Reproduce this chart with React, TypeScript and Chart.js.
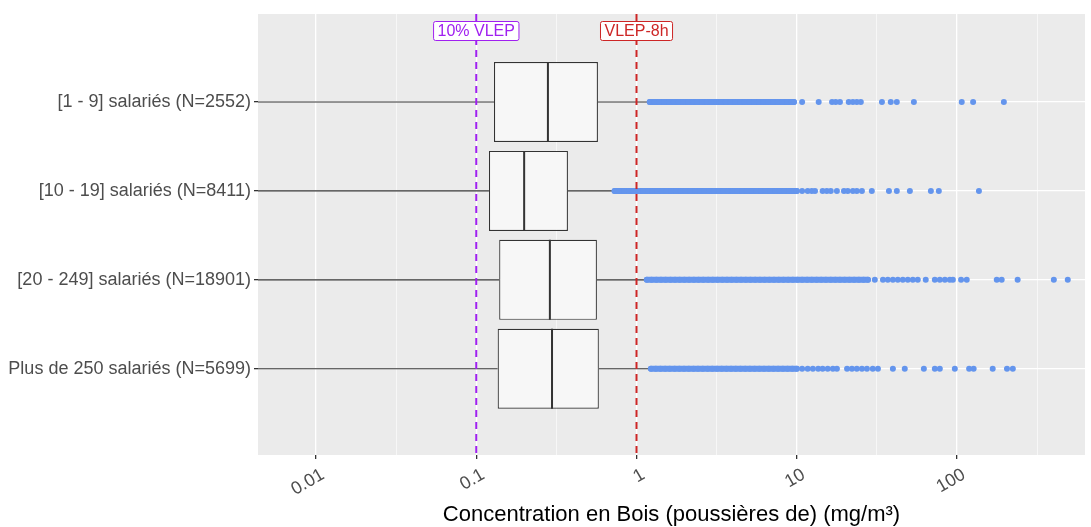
import React, { useEffect, useRef } from "react";
import { Chart, registerables } from "chart.js";

Chart.register(...registerables);

// ---------- data ----------
const categories = [
  "[1 - 9] salariés (N=2552)",
  "[10 - 19] salariés (N=8411)",
  "[20 - 249] salariés (N=18901)",
  "Plus de 250 salariés (N=5699)",
];
const q1Values = [0.129, 0.12, 0.139, 0.136];
const medianValues = [0.28, 0.199, 0.288, 0.297];
const q3Values = [0.574, 0.373, 0.566, 0.582];
const lowerWhiskers = [0.001, 0.001, 0.001, 0.001];
const upperWhiskers = [1.2, 0.72, 1.15, 1.22];

// extent of the dense (overlapping) run of outliers on each row
const denseStart = [1.21, 0.73, 1.16, 1.23];
const denseEnd = [9.6, 10.0, 27.8, 10.0];

const outliersRow1 = [1.21, 1.3, 1.39, 1.49, 1.6, 1.71, 1.83, 1.96, 2.1, 2.25, 2.4, 2.57, 2.75, 2.95, 3.15, 3.38, 3.61, 3.87, 4.14, 4.43, 4.74, 5.07, 5.43, 5.81, 6.21, 6.65, 7.11, 7.61, 8.14, 8.71, 9.32, 9.6, 10.8, 13.7, 16.6, 17.5, 18.6, 21.1, 22.4, 23.7, 25.1, 34.0, 38.6, 42.1, 53.8, 107, 126, 196];
const outliersRow2 = [0.73, 0.78, 0.84, 0.9, 0.96, 1.03, 1.1, 1.18, 1.26, 1.35, 1.44, 1.54, 1.65, 1.77, 1.89, 2.02, 2.17, 2.32, 2.48, 2.65, 2.84, 3.04, 3.25, 3.48, 3.72, 3.98, 4.26, 4.56, 4.88, 5.22, 5.59, 5.98, 6.4, 6.84, 7.32, 7.84, 8.38, 8.97, 9.6, 10.0, 10.8, 11.7, 12.4, 13.0, 14.5, 15.4, 16.3, 17.8, 19.7, 20.8, 22.4, 23.7, 25.5, 29.4, 37.6, 42.1, 50.8, 68.7, 77.0, 137];
const outliersRow3 = [1.16, 1.24, 1.33, 1.42, 1.52, 1.63, 1.74, 1.86, 1.99, 2.13, 2.28, 2.44, 2.61, 2.8, 2.99, 3.2, 3.43, 3.67, 3.92, 4.2, 4.49, 4.81, 5.14, 5.5, 5.89, 6.3, 6.74, 7.21, 7.72, 8.26, 8.84, 9.45, 10.1, 10.8, 11.6, 12.4, 13.3, 14.2, 15.2, 16.3, 17.4, 18.6, 19.9, 21.3, 22.8, 24.4, 26.1, 27.8, 30.7, 34.5, 37.0, 39.8, 42.7, 45.9, 49.3, 53.0, 56.9, 63.8, 72.7, 78.1, 84.0, 90.2, 94.2, 106, 115, 177, 190, 239, 402, 491];
const outliersRow4 = [1.23, 1.32, 1.41, 1.51, 1.61, 1.73, 1.85, 1.98, 2.12, 2.27, 2.42, 2.59, 2.78, 2.97, 3.18, 3.4, 3.64, 3.89, 4.16, 4.45, 4.77, 5.1, 5.46, 5.84, 6.25, 6.69, 7.15, 7.65, 8.19, 8.76, 9.38, 10.0, 10.8, 11.7, 12.6, 13.6, 14.5, 15.6, 16.8, 17.8, 20.6, 22.1, 23.7, 25.5, 27.4, 29.8, 32.1, 39.8, 47.2, 62.1, 72.7, 78.1, 96.9, 119, 127, 167, 205, 223];
const outliers = [outliersRow1, outliersRow2, outliersRow3, outliersRow4];

const refValues = [0.1, 1];
const refLabels = ["10% VLEP", "VLEP-8h"];
const refColors = ["#A020F0", "#CD2626"];

const xMajorTicks = [0.01, 0.1, 1, 10, 100];
const xMinorTicks = [0.0316, 0.316, 3.16, 31.6, 316];
const xTickLabels = ["0.01", "0.1", "1", "10", "100"];
const xTitle = "Concentration en Bois (poussières de) (mg/m³)";

const X_MIN = 0.004345;
const X_MAX = 629;
const Y_MIN = 0.01;
const Y_MAX = 4.97;

const FONT = '"Liberation Sans", Arial, sans-serif';
const OUTLIER_COLOR = "#6495ED";

const refLabelPlugin = {
  id: "refLabels",
  afterDatasetsDraw(chart: any) {
    const { ctx, chartArea } = chart;
    const xs = chart.scales.x;
    ctx.save();
    ctx.font = `16px ${FONT}`;
    ctx.textAlign = "center";
    ctx.textBaseline = "middle";
    refValues.forEach((v, i) => {
      const px = xs.getPixelForValue(v);
      const label = refLabels[i];
      const w = ctx.measureText(label).width + 8;
      const h = 19;
      const cy = chartArea.top + 17;
      const x0 = px - w / 2;
      const y0 = cy - h / 2;
      const r = 2;
      ctx.beginPath();
      ctx.moveTo(x0 + r, y0);
      ctx.lineTo(x0 + w - r, y0);
      ctx.quadraticCurveTo(x0 + w, y0, x0 + w, y0 + r);
      ctx.lineTo(x0 + w, y0 + h - r);
      ctx.quadraticCurveTo(x0 + w, y0 + h, x0 + w - r, y0 + h);
      ctx.lineTo(x0 + r, y0 + h);
      ctx.quadraticCurveTo(x0, y0 + h, x0, y0 + h - r);
      ctx.lineTo(x0, y0 + r);
      ctx.quadraticCurveTo(x0, y0, x0 + r, y0);
      ctx.closePath();
      ctx.fillStyle = "#ffffff";
      ctx.fill();
      ctx.lineWidth = 1;
      ctx.strokeStyle = refColors[i];
      ctx.stroke();
      ctx.fillStyle = refColors[i];
      ctx.fillText(label, px, cy + 1);
    });
    ctx.restore();
  },
};

export default function App() {
  const canvasRef = useRef<HTMLCanvasElement | null>(null);

  useEffect(() => {
    if (!canvasRef.current) return;
    Chart.defaults.font.family = FONT;

    const datasets: any[] = [];

    // reference lines (top)
    refValues.forEach((v, i) => {
      datasets.push({
        type: "line",
        data: [
          { x: v, y: Y_MIN },
          { x: v, y: Y_MAX },
        ],
        borderColor: refColors[i],
        borderWidth: 2,
        borderDash: [7, 5],
        pointRadius: 0,
        order: 0,
      });
    });

    // outliers (individual points)
    datasets.push({
      type: "scatter",
      data: outliers.flatMap((row, i) => row.map((v) => ({ x: v, y: i + 1 }))),
      backgroundColor: OUTLIER_COLOR,
      borderColor: OUTLIER_COLOR,
      borderWidth: 0,
      pointRadius: 3,
      order: 1,
    });

    // dense overlapping runs of outliers
    categories.forEach((_, i) => {
      datasets.push({
        type: "line",
        data: [
          { x: denseStart[i], y: i + 1 },
          { x: denseEnd[i], y: i + 1 },
        ],
        borderColor: OUTLIER_COLOR,
        borderWidth: 6,
        borderCapStyle: "round",
        pointRadius: 0,
        order: 1,
      });
    });

    // medians
    medianValues.forEach((m, i) => {
      datasets.push({
        type: "line",
        data: [
          { x: m, y: i + 1 - 0.45 },
          { x: m, y: i + 1 + 0.45 },
        ],
        borderColor: "#333333",
        borderWidth: 2,
        pointRadius: 0,
        order: 2,
      });
    });

    // boxes
    datasets.push({
      type: "bar",
      indexAxis: "y",
      data: categories.map((_, i) => ({ x: [q1Values[i], q3Values[i]], y: i + 1 })),
      backgroundColor: "#f7f7f7",
      borderColor: "#333333",
      borderWidth: 1.2,
      borderSkipped: false,
      categoryPercentage: 1,
      barPercentage: 0.9,
      order: 3,
    });

    // whiskers
    categories.forEach((_, i) => {
      datasets.push({
        type: "line",
        data: [
          { x: lowerWhiskers[i], y: i + 1 },
          { x: q1Values[i], y: i + 1 },
        ],
        borderColor: "#333333",
        borderWidth: 1.2,
        pointRadius: 0,
        order: 4,
      });
      datasets.push({
        type: "line",
        data: [
          { x: q3Values[i], y: i + 1 },
          { x: upperWhiskers[i], y: i + 1 },
        ],
        borderColor: "#333333",
        borderWidth: 1.2,
        pointRadius: 0,
        order: 4,
      });
    });

    const allXTicks = [...xMajorTicks, ...xMinorTicks].sort((a, b) => a - b);
    const isMajor = (v: number) => xMajorTicks.some((t) => Math.abs(t - v) / t < 1e-6);

    const chart = new Chart(canvasRef.current, {
      type: "scatter",
      data: { datasets },
      options: {
        animation: false,
        responsive: false,
        devicePixelRatio: 1,
        layout: { padding: { top: 14, right: 6, bottom: 0, left: 0 } },
        plugins: {
          legend: { display: false },
          tooltip: { enabled: false },
        },
        scales: {
          x: {
            type: "logarithmic",
            min: X_MIN,
            max: X_MAX,
            offset: false,
            afterBuildTicks: (scale: any) => {
              scale.ticks = allXTicks.map((v) => ({ value: v }));
            },
            afterFit: (scale: any) => {
              scale.height = 527 - 455;
            },
            grid: {
              color: "#ffffff",
              offset: false,
              lineWidth: (ctx: any) => (ctx.tick && isMajor(ctx.tick.value) ? 1.3 : 0.6),
              tickColor: (ctx: any) => (ctx.tick && isMajor(ctx.tick.value) ? "#333333" : "rgba(0,0,0,0)"),
              tickLength: 4,
              drawTicks: true,
            },
            border: { display: false },
            ticks: {
              autoSkip: false,
              minRotation: 30,
              maxRotation: 30,
              padding: 5,
              labelOffset: 7,
              color: "#4d4d4d",
              font: { size: 18, family: FONT },
              callback: (value: any) => {
                const idx = xMajorTicks.findIndex((t) => Math.abs(t - Number(value)) / t < 1e-6);
                return idx >= 0 ? xTickLabels[idx] : "";
              },
            },
            title: {
              display: true,
              text: xTitle,
              color: "#000000",
              font: { size: 22, family: FONT },
              padding: { top: 0, bottom: -1 },
            },
          },
          y: {
            type: "linear",
            reverse: true,
            min: Y_MIN,
            max: Y_MAX,
            offset: false,
            afterBuildTicks: (scale: any) => {
              scale.ticks = categories.map((_, i) => ({ value: i + 1 }));
            },
            afterFit: (scale: any) => {
              scale.width = 258;
            },
            grid: {
              color: "#ffffff",
              offset: false,
              lineWidth: 1.3,
              tickColor: "#333333",
              tickLength: 4,
            },
            border: { display: false },
            ticks: {
              autoSkip: false,
              padding: 3,
              color: "#4d4d4d",
              font: { size: 18, family: FONT },
              callback: (value: any) => categories[Number(value) - 1] ?? "",
            },
          },
        },
      },
      plugins: [
        {
          id: "panelBg",
          beforeDraw(chart: any) {
            const { ctx, chartArea } = chart;
            ctx.save();
            ctx.fillStyle = "#EBEBEB";
            ctx.fillRect(chartArea.left, chartArea.top, chartArea.right - chartArea.left, chartArea.bottom - chartArea.top);
            ctx.restore();
          },
        },
        refLabelPlugin,
      ],
    } as any);

    return () => chart.destroy();
  }, []);

  return (
    <div style={{ position: "fixed", left: 0, top: 0, width: 1091, height: 527, background: "#ffffff" }}>
      <canvas ref={canvasRef} width={1091} height={527} style={{ display: "block" }} />
    </div>
  );
}
